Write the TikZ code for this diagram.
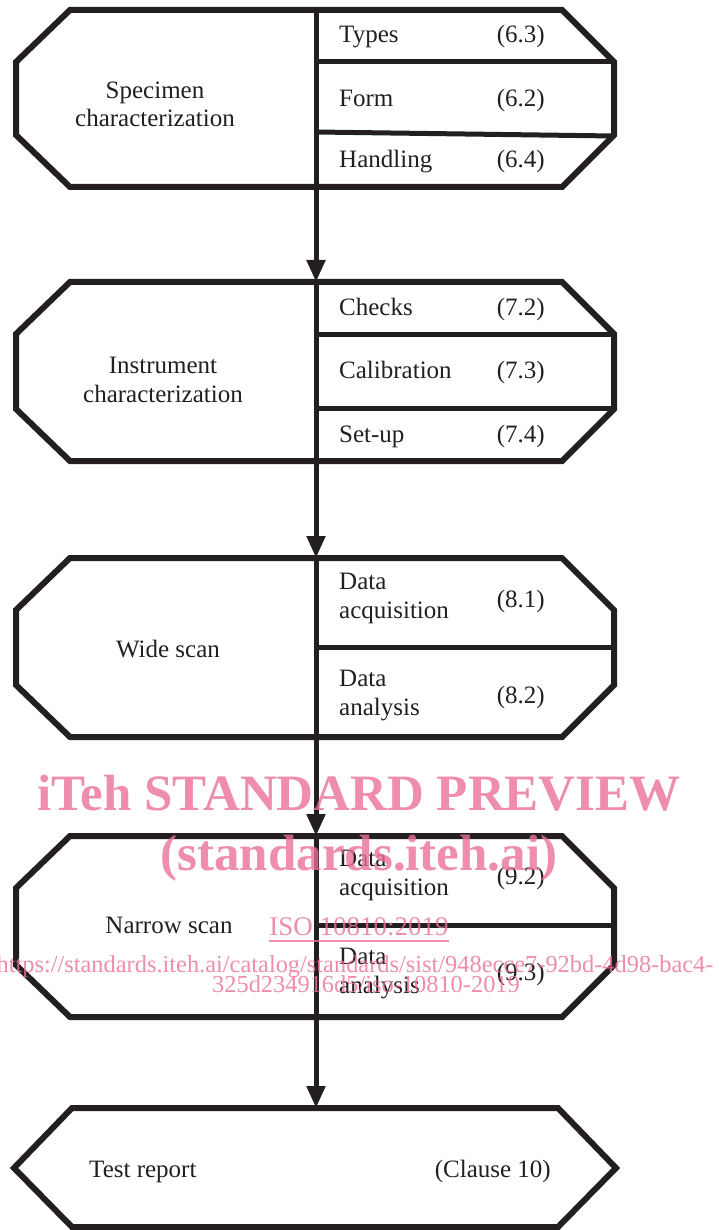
\documentclass[tikz,border=0pt]{standalone}
\usepackage{fontspec}
\setmainfont{Liberation Serif}
\usetikzlibrary{arrows.meta}
\definecolor{ink}{RGB}{35,31,32}
\definecolor{wm}{RGB}{234,112,152}
\newcommand{\octbox}[2]{\draw[outline] (70,#1) -- (562,#1) -- (614,#1+52) -- (614,#2-52) -- (562,#2) -- (70,#2) -- (16,#2-52) -- (16,#1+52) -- cycle;}
\begin{document}
\begin{tikzpicture}[x=1pt,y=-1pt,
  outline/.style={draw=ink, line width=6pt, line join=miter},
  divider/.style={draw=ink, line width=5pt},
  flow/.style={draw=ink, line width=5pt, -{Triangle[width=18pt,length=22pt]}},
  lbl/.style={font=\fontsize{25}{28.5}\selectfont, text=ink, inner sep=0pt, align=center, anchor=base},
  item/.style={font=\fontsize{25}{28.5}\selectfont, text=ink, inner sep=0pt, align=left, anchor=base west},
  ref/.style={font=\fontsize{25}{28.5}\selectfont, text=ink, inner sep=0pt, anchor=base east},
  wmbig/.style={font=\bfseries\fontsize{51}{55}\selectfont, text=wm, text opacity=0.8, inner sep=0pt, anchor=base},
  wmsmall/.style={font=\fontsize{24.4}{27}\selectfont, text=wm, text opacity=0.8, inner sep=0pt, anchor=base},
]
\useasboundingbox (0,0) rectangle (719,1230);

% boxes
\octbox{10}{187}
\octbox{282}{461}
\octbox{558}{737}
\octbox{836}{1017}
\draw[outline] (72,1108) -- (558,1108) -- (616,1168) -- (558,1227) -- (72,1227) -- (14,1168) -- cycle;

% connector end points
\coordinate (b1n) at (316,10);  \coordinate (b1s) at (316,187);
\coordinate (b2n) at (316,282); \coordinate (b2s) at (316,461);
\coordinate (b3n) at (316,558); \coordinate (b3s) at (316,737);
\coordinate (b4n) at (316,836); \coordinate (b4s) at (316,1017);
\coordinate (b5n) at (316,1108);

% vertical dividers
\draw[divider] (b1n) -- (b1s);
\draw[divider] (b2n) -- (b2s);
\draw[divider] (b3n) -- (b3s);
\draw[divider] (b4n) -- (b4s);

% horizontal dividers
\draw[divider] (316,62) -- (614,62);
\draw[divider] (316,132) -- (614,136);
\draw[divider] (316,334) -- (614,334);
\draw[divider] (316,408) -- (614,408);
\draw[divider] (316,647) -- (614,647);
\draw[divider] (316,925) -- (614,925);

% arrows
\draw[flow] (b1s) -- (b2n);
\draw[flow] (b2s) -- (b3n);
\draw[flow] (b3s) -- (b4n);
\draw[flow] (b4s) -- (b5n);

% box 1
\node[lbl] (spec) at (155,127) {Specimen\\characterization};
\node[item] (types) at (339,43) {Types};
\node[ref] (r63) at (545,43) {(6.3)};
\node[item] (form) at (339,107) {Form};
\node[ref] (r62) at (545,107) {(6.2)};
\node[item] (hand) at (339,168) {Handling};
\node[ref] (r64) at (545,168) {(6.4)};

% box 2
\node[lbl] (inst) at (163,402) {Instrument\\characterization};
\node[item] (checks) at (339,315) {Checks};
\node[ref] (r72) at (545,315) {(7.2)};
\node[item] (calib) at (339,378) {Calibration};
\node[ref] (r73) at (545,378) {(7.3)};
\node[item] (setup) at (339,442) {Set-up};
\node[ref] (r74) at (545,442) {(7.4)};

% box 3
\node[lbl] (wide) at (168,657) {Wide scan};
\node[item] (acq1) at (339,618) {Data\\acquisition};
\node[ref] (r81) at (545,607) {(8.1)};
\node[item] (ana1) at (339,715) {Data\\analysis};
\node[ref] (r82) at (545,703) {(8.2)};

% box 4
\node[lbl] (narrow) at (169,933) {Narrow scan};
\node[item] (acq2) at (339,895) {Data\\acquisition};
\node[ref] (r92) at (545,884) {(9.2)};
\node[item] (ana2) at (339,993) {Data\\analysis};
\node[ref] (r93) at (545,980) {(9.3)};

% box 5
\node[item] (test) at (89,1177) {Test report};
\node[ref] (clause) at (551,1177) {(Clause 10)};

% watermark
\node[wmbig] (wm1) at (359,810) {iTeh STANDARD PREVIEW};
\node[wmbig] (wm2) at (359,870) {(standards.iteh.ai)};
\node[wmsmall, font=\fontsize{27}{30}\selectfont] (iso) at (359,935) {ISO 10810:2019};
\draw[wm, draw opacity=0.8, line width=1.5pt] ([yshift=-6pt]iso.base west) -- ([yshift=-6pt]iso.base east);
\node[wmsmall] (url1) at (355,972) {https://standards.iteh.ai/catalog/standards/sist/948ecce7-92bd-4d98-bac4-};
\node[wmsmall] (url2) at (366,992) {325d234916d5/iso-10810-2019};
\end{tikzpicture}
\end{document}
